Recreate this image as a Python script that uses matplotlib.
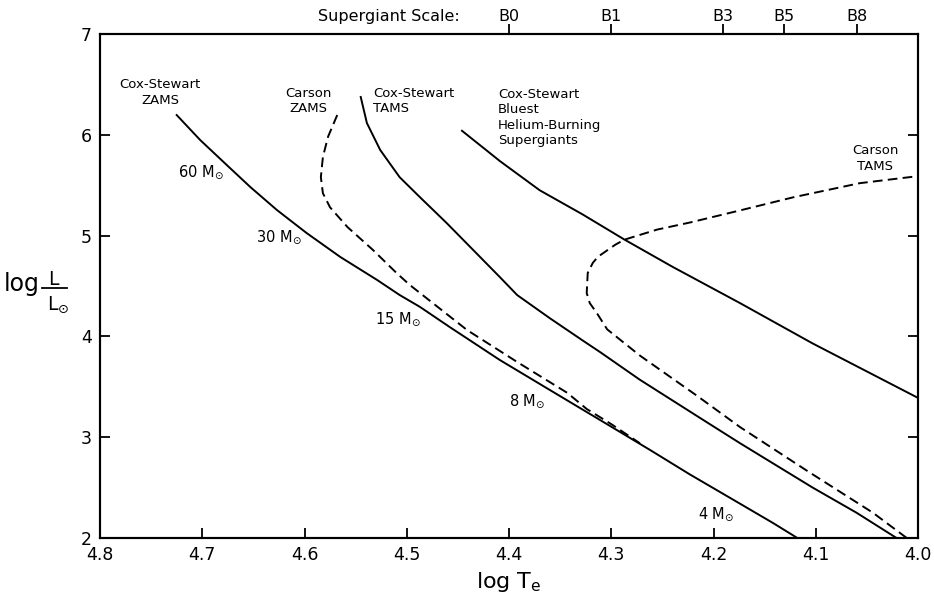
import matplotlib.pyplot as plt
from matplotlib.lines import Line2D

# curves (log Te, log L/Lsun)
cs_zams_t = [4.725, 4.702, 4.676, 4.653, 4.627, 4.598, 4.565, 4.529, 4.507, 4.487, 4.458,
             4.409, 4.360, 4.311, 4.262, 4.223, 4.174, 4.142, 4.118]
cs_zams_l = [6.196, 5.948, 5.700, 5.482, 5.254, 5.026, 4.788, 4.560, 4.411, 4.292, 4.093,
             3.766, 3.468, 3.171, 2.873, 2.630, 2.340, 2.150, 2.000]

carson_zams_t = [4.568, 4.577, 4.582, 4.584, 4.582, 4.575, 4.558, 4.533, 4.510, 4.497, 4.441,
                 4.392, 4.343, 4.324, 4.300, 4.272]
carson_zams_l = [6.196, 5.98, 5.78, 5.58, 5.42, 5.28, 5.085, 4.857, 4.629, 4.51, 4.063,
                 3.746, 3.44, 3.28, 3.13, 2.94]

cs_tams_t = [4.545, 4.539, 4.526, 4.507, 4.487, 4.461, 4.435, 4.409, 4.392, 4.360, 4.328,
             4.311, 4.272, 4.213, 4.174, 4.103, 4.060, 4.021]
cs_tams_l = [6.375, 6.117, 5.85, 5.58, 5.38, 5.125, 4.857, 4.589, 4.41, 4.18, 3.96,
             3.845, 3.57, 3.19, 2.94, 2.50, 2.25, 2.00]

carson_tams_t = [4.011, 4.044, 4.109, 4.174, 4.216, 4.272, 4.304, 4.314, 4.321, 4.324, 4.323,
                 4.318, 4.313, 4.296, 4.287, 4.255, 4.223, 4.174, 4.122, 4.057, 4.000]
carson_tams_l = [2.00, 2.25, 2.67, 3.10, 3.41, 3.81, 4.07, 4.23, 4.33, 4.43, 4.63,
                 4.73, 4.79, 4.91, 4.96, 5.06, 5.13, 5.25, 5.38, 5.52, 5.59]

bluest_t = [4.446, 4.425, 4.409, 4.370, 4.328, 4.287, 4.240, 4.174, 4.103, 4.000]
bluest_l = [6.04, 5.87, 5.74, 5.45, 5.21, 4.96, 4.69, 4.33, 3.93, 3.39]

mass_labels = ['60', '30', '15', '8', '4']
mass_t = [4.701, 4.625, 4.509, 4.382, 4.197]
mass_l = [5.63, 4.99, 4.17, 3.36, 2.24]

sg_types = ['B0', 'B1', 'B3', 'B5', 'B8']
sg_pos = [4.4, 4.3, 4.191, 4.131, 4.060]

W, H = 934, 597
fig = plt.figure(figsize=(W / 100, H / 100), dpi=100)
ax = fig.add_axes([100 / W, 1 - 538 / H, 818 / W, 504 / H])

lw = 1.4
dash = (0, (5, 2.7))
ax.plot(cs_zams_t, cs_zams_l, color='black', lw=lw)
ax.plot(carson_zams_t, carson_zams_l, color='black', lw=lw, linestyle=dash)
ax.plot(cs_tams_t, cs_tams_l, color='black', lw=lw)
ax.plot(carson_tams_t, carson_tams_l, color='black', lw=lw, linestyle=dash)
ax.plot(bluest_t, bluest_l, color='black', lw=lw)

ax.set_xlim(4.8, 4.0)
ax.set_ylim(2, 7)
ax.set_xticks([4.8, 4.7, 4.6, 4.5, 4.4, 4.3, 4.2, 4.1, 4.0])
ax.set_xticklabels(['4.8', '4.7', '4.6', '4.5', '4.4', '4.3', '4.2', '4.1', '4.0'])
ax.set_yticks([2, 3, 4, 5, 6, 7])
ax.tick_params(direction='in', length=7, width=1.3, top=True, right=True,
               labelsize=12.5, pad=6)
for s in ax.spines.values():
    s.set_linewidth(1.5)

# supergiant scale on top
top = ax.twiny()
top.set_xlim(ax.get_xlim())
top.set_xticks(sg_pos)
top.set_xticklabels(sg_types)
top.tick_params(direction='out', length=7, width=1.3, labelsize=11.5, pad=0)
for s in top.spines.values():
    s.set_linewidth(1.5)
fig.text(389 / W, 1 - 17 / H, 'Supergiant Scale:', ha='center', va='center', fontsize=11.5)

fs = 9.5
ax.text(4.741, 6.42, 'Cox-Stewart\nZAMS', ha='center', va='center', fontsize=fs, linespacing=1.25)
ax.text(4.596, 6.335, 'Carson\nZAMS', ha='center', va='center', fontsize=fs, linespacing=1.25)
ax.text(4.533, 6.335, 'Cox-Stewart\nTAMS', ha='left', va='center', fontsize=fs, linespacing=1.25)
ax.text(4.411, 6.17, 'Cox-Stewart\nBluest\nHelium-Burning\nSupergiants', ha='left', va='center',
        fontsize=fs, linespacing=1.25)
ax.text(4.042, 5.765, 'Carson\nTAMS', ha='center', va='center', fontsize=fs, linespacing=1.25)

for lab, t, l in zip(mass_labels, mass_t, mass_l):
    ax.text(t, l, lab + r' M$_{\odot}$', ha='center', va='center', fontsize=10.5)

ax.set_xlabel(r'log T$_\mathrm{e}$', fontsize=16, labelpad=4)

# y label drawn as log L / L_sun
fig.text(4 / W, 1 - 291 / H, 'log', ha='left', va='baseline', fontsize=17)
fig.text(53 / W, 1 - 285 / H, 'L', ha='center', va='baseline', fontsize=13.5)
fig.text(47 / W, 1 - 310 / H, r'L$_{\odot}$', ha='left', va='baseline', fontsize=13.5)
fig.add_artist(Line2D([42 / W, 67 / W], [1 - 288 / H, 1 - 288 / H], color='black', lw=1.3,
                      transform=fig.transFigure))

fig.savefig('out.png', dpi=100)
